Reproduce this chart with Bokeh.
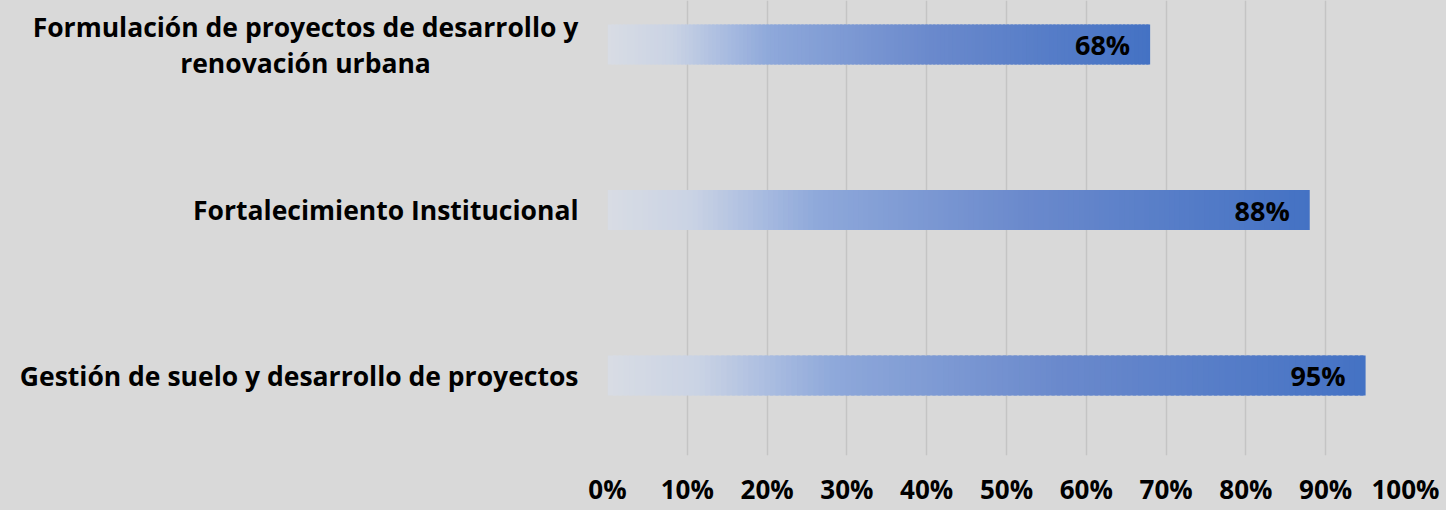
from bokeh.plotting import figure
from bokeh.layouts import row
from bokeh.models import Range1d, FixedTicker, ColumnDataSource, LabelSet
from bokeh.core.properties import value
from bokeh.embed import file_html
from bokeh.resources import INLINE

# ---- data (bottom to top) ----
categories = [
    "Gestión de suelo y desarrollo de proyectos",
    "Fortalecimiento Institucional",
    "Formulación de proyectos de desarrollo y\nrenovación urbana",
]
values = [0.95, 0.88, 0.68]
value_labels = ["95%", "88%", "68%"]
tick_values = [0.0, 0.1, 0.2, 0.3, 0.4, 0.5, 0.6, 0.7, 0.8, 0.9, 1.0]
tick_labels = ["0%", "10%", "20%", "30%", "40%", "50%", "60%", "70%", "80%", "90%", "100%"]

# ---- style ----
BG = "#d9d9d9"
FONT = "Open Sans"
grad_stops = [
    (0.00, (216, 220, 228)),
    (0.12, (202, 211, 228)),
    (0.22, (168, 187, 224)),
    (0.30, (142, 168, 218)),
    (0.60, (106, 137, 204)),
    (1.00, (68, 114, 196)),
]
N_STRIPS = 140
BAR_H = 0.242
LABEL_W = 580          # width of the category-label panel (px)
LABEL_RIGHT = 578      # right edge of category texts (px)
LINE1_W = 546          # rendered width of the longest first line (px)
MAIN_LEFT = 27         # room for the "0%" tick label
BOTTOM = 55


def grad_color(t):
    for (t0, c0), (t1, c1) in zip(grad_stops[:-1], grad_stops[1:]):
        if t <= t1:
            f = (t - t0) / (t1 - t0) if t1 > t0 else 0
            c = [round(a + (b - a) * f) for a, b in zip(c0, c1)]
            return "#%02x%02x%02x" % tuple(c)
    return "#%02x%02x%02x" % grad_stops[-1][1]


idx = list(range(len(categories)))
yr = Range1d(-0.483, 2.266)
bg_style = {"background-color": BG}

# ---- main chart ----
p = figure(
    width=1446 - LABEL_W, height=510,
    x_range=Range1d(0, 1.0), y_range=yr,
    output_backend="svg", toolbar_location=None,
    background_fill_color=BG, border_fill_color=BG,
    min_border_left=MAIN_LEFT, min_border_right=41, min_border_top=0, min_border_bottom=10,
    styles=bg_style,
)
p.outline_line_color = None

lefts, rights, ys, colors = [], [], [], []
for i, v in enumerate(values):
    for k in range(N_STRIPS):
        lefts.append(v * k / N_STRIPS)
        rights.append(min(v, v * (k + 1.6) / N_STRIPS))
        ys.append(idx[i])
        colors.append(grad_color((k + 0.5) / N_STRIPS))
src = ColumnDataSource(dict(left=lefts, right=rights, y=ys, color=colors))
p.hbar(y="y", left="left", right="right", height=BAR_H, fill_color="color", line_color=None, source=src)

lab_src = ColumnDataSource(dict(x=values, y=idx, t=value_labels))
p.add_layout(LabelSet(x="x", y="y", text="t", source=lab_src, x_offset=-20,
                      text_align="right", text_baseline="middle",
                      text_font=value(FONT), text_font_style="bold", text_font_size="27px",
                      text_color="black"))

p.yaxis.visible = False
p.xaxis.ticker = FixedTicker(ticks=tick_values)
p.xaxis.major_label_overrides = {t: s for t, s in zip(tick_values, tick_labels)}
p.xaxis.axis_line_color = None
p.xaxis.major_tick_line_color = None
p.xaxis.minor_tick_line_color = None
p.xaxis.major_tick_out = 0
p.xaxis.major_tick_in = 0
p.xaxis.minor_tick_out = 0
p.xaxis.major_label_standoff = 15
p.xaxis.major_label_text_font = FONT
p.xaxis.major_label_text_font_style = "bold"
p.xaxis.major_label_text_font_size = "26px"
p.xaxis.major_label_text_color = "black"

p.ygrid.grid_line_color = None
p.xgrid.ticker = FixedTicker(ticks=tick_values[1:])
p.xgrid.grid_line_color = "#c4c4c4"
p.xgrid.grid_line_width = 1.5

# ---- category label panel ----
q = figure(
    width=LABEL_W, height=510,
    x_range=Range1d(0, LABEL_W), y_range=yr,
    output_backend="svg", toolbar_location=None,
    background_fill_color=BG, border_fill_color=BG,
    min_border_left=0, min_border_right=0, min_border_top=0, min_border_bottom=BOTTOM,
    styles=bg_style,
)
q.outline_line_color = None
q.axis.visible = False
q.grid.visible = False

single = [i for i, c in enumerate(categories) if "\n" not in c]
multi = [i for i, c in enumerate(categories) if "\n" in c]
common = dict(text_font=value(FONT), text_font_style="bold", text_font_size="26.5px",
              text_baseline="middle", text_color="black", text_line_height=1.0)
q.text(x=[LABEL_RIGHT] * len(single), y=[idx[i] for i in single],
       text=[categories[i] for i in single], text_align="right", **common)
q.text(x=[LABEL_RIGHT - LINE1_W / 2] * len(multi), y=[idx[i] for i in multi],
       text=[categories[i] for i in multi], text_align="center", **common)

layout = row(q, p, spacing=0, styles=bg_style)
open("out.html", "w").write(file_html(layout, INLINE))
